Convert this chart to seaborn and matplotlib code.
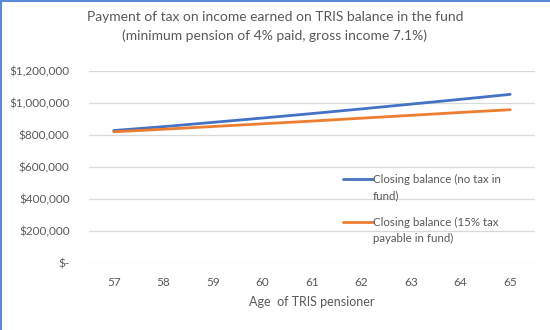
import matplotlib
matplotlib.use("Agg")
import matplotlib.pyplot as plt
import seaborn as sns
import pandas as pd
from matplotlib.ticker import FuncFormatter
from matplotlib.lines import Line2D
from matplotlib.legend_handler import HandlerLine2D

ages = [57, 58, 59, 60, 61, 62, 63, 64, 65]
no_tax = [828000, 852000, 879000, 906000, 934000, 963000, 993000, 1023000, 1054000]
with_tax = [820000, 836000, 853000, 870000, 887000, 905000, 923000, 941000, 958000]
series_names = ["Closing balance (no tax in\nfund)", "Closing balance (15% tax\npayable in fund)"]
colors = ["#4472C4", "#ED7D31"]

df = pd.DataFrame({
    "age": [str(a) for a in ages] * 2,
    "value": no_tax + with_tax,
    "series": [series_names[0]] * len(ages) + [series_names[1]] * len(ages),
})

sns.set_style("white")
plt.rcParams['font.family'] = ['Lato', 'DejaVu Sans']
txt = "#595959"

fig = plt.figure(figsize=(5.5, 3.3), dpi=100)
ax = fig.add_axes([89/550, 1-263/330, (535-89)/550, (263-71)/330])

sns.lineplot(data=df, x="age", y="value", hue="series", palette=colors,
             linewidth=2.0, ax=ax, sort=False, legend=False)

ax.set_ylim(0, 1200000)
ax.set_xlim(-0.5, len(ages) - 0.5)
ax.set_yticks(range(0, 1200001, 200000))

def fmt(v, pos):
    if v == 0:
        return "$-"
    return "${:,.0f}".format(v)
ax.yaxis.set_major_formatter(FuncFormatter(fmt))
ax.grid(axis="y", color="#d9d9d9", linewidth=0.9)
ax.grid(axis="x", visible=False)
for s in ax.spines.values():
    s.set_visible(False)
ax.tick_params(axis="both", length=0, labelsize=8.5, labelcolor=txt)
ax.tick_params(axis="y", pad=14)
ax.tick_params(axis="x", pad=10)
ax.set_ylabel("")
ax.set_xlabel("Age  of TRIS pensioner", fontsize=9, color=txt, labelpad=6)

fig.text(0.5, 1-17/330, "Payment of tax on income earned on TRIS balance in the fund",
         ha="center", va="center", fontsize=10, color=txt)
fig.text(0.5, 1-36/330, "(minimum pension of 4% paid, gross income 7.1%)",
         ha="center", va="center", fontsize=10, color=txt)

LEG_FS = 8.3
LEG_LS = 1.55

class HandlerTop(HandlerLine2D):
    def create_artists(self, legend, orig_handle, xdescent, ydescent, width, height, fontsize, trans):
        arts = super().create_artists(legend, orig_handle, xdescent, ydescent, width, height, fontsize, trans)
        shift = fontsize * LEG_LS / 2
        for a in arts:
            a.set_ydata([y + shift for y in a.get_ydata()])
        return arts

handles = [Line2D([], [], color=c, linewidth=2.0) for c in colors]
leg = ax.legend(handles, series_names, loc="upper left",
                bbox_to_anchor=((343-89)/446, 1-(174-71)/192),
                frameon=False, fontsize=LEG_FS, labelcolor=txt,
                handlelength=2.6, handletextpad=0.0, labelspacing=1.4,
                borderaxespad=0, borderpad=0,
                handler_map={Line2D: HandlerTop()})
for t in leg.get_texts():
    t.set_linespacing(LEG_LS)

# screenshot border (top and left)
fig.add_artist(Line2D([0, 1], [1 - 0.5/330, 1 - 0.5/330], color="#5B8BD6", linewidth=1.5, transform=fig.transFigure))
fig.add_artist(Line2D([0.5/550, 0.5/550], [0, 1], color="#5B8BD6", linewidth=1.5, transform=fig.transFigure))

fig.savefig("out.png", dpi=100)
